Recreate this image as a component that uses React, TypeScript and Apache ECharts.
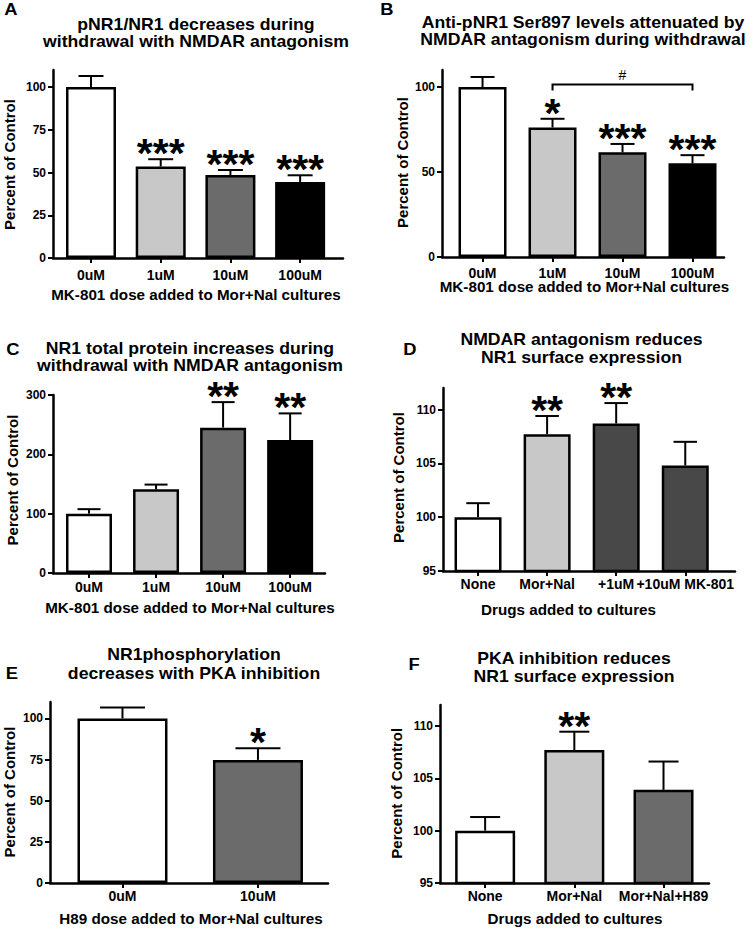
import React, { useEffect, useRef } from 'react';
import * as echarts from 'echarts';

// ---------- Data ----------
const catsA = ['0uM', '1uM', '10uM', '100uM'];
const meanA = [100, 53.5, 48.6, 44.5];
const semA = [6.5, 4.3, 2.9, 3.9];
const sigA = ['', '***', '***', '***'];
const ticksA = [0, 25, 50, 75, 100];

const catsB = ['0uM', '1uM', '10uM', '100uM'];
const meanB = [100, 76.2, 61.6, 55.1];
const semB = [5.9, 5.1, 4.9, 4.8];
const sigB = ['', '*', '***', '***'];
const ticksB = [0, 50, 100];
const bracketB = [[1, 3, 101.5]];
const bracketLabelB = '#';

const catsC = ['0uM', '1uM', '10uM', '100uM'];
const meanC = [100, 141, 245, 224];
const semC = [7.6, 8, 43, 45];
const sigC = ['', '', '**', '**'];
const ticksC = [0, 100, 200, 300];

const catsD = ['None', 'Mor+Nal', '+1uM', '+10uM MK-801'];
const meanD = [100, 107.7, 108.7, 104.8];
const semD = [1.3, 1.7, 1.9, 2.2];
const sigD = ['', '**', '**', ''];
const ticksD = [95, 100, 105, 110];

const catsE = ['0uM', '10uM'];
const meanE = [100, 74.8];
const semE = [6.7, 7.1];
const sigE = ['', '*'];
const ticksE = [0, 25, 50, 75, 100];

const catsF = ['None', 'Mor+Nal', 'Mor+Nal+H89'];
const meanF = [100, 107.7, 103.9];
const semF = [1.3, 1.75, 2.7];
const sigF = ['', '**', ''];
const ticksF = [95, 100, 105, 110];

const letters = ['A', 'B', 'C', 'D', 'E', 'F'];
const titles = [
  'pNR1/NR1 decreases during\nwithdrawal with NMDAR antagonism',
  'Anti-pNR1 Ser897 levels attenuated by\nNMDAR antagonism during withdrawal',
  'NR1 total protein increases during\nwithdrawal with NMDAR antagonism',
  'NMDAR antagonism reduces\nNR1 surface expression',
  'NR1phosphorylation\ndecreases with PKA inhibition',
  'PKA inhibition reduces\nNR1 surface expression',
];
const xTitles = [
  'MK-801 dose added to Mor+Nal cultures',
  'MK-801 dose added to Mor+Nal cultures',
  'MK-801 dose added to Mor+Nal cultures',
  'Drugs added to cultures',
  'H89 dose added to Mor+Nal cultures',
  'Drugs added to cultures',
];
const yTitle = 'Percent of Control';

// ---------- Layout / style ----------
const FONT = '"Liberation Sans", Arial, Helvetica, sans-serif';
const WHITE = '#ffffff';
const LIGHT = '#c8c8c8';
const MID = '#6b6b6b';
const DARK = '#484848';
const BLACK = '#000000';

const panels = [
  { cats: catsA, mean: meanA, sem: semA, sig: sigA, ticks: ticksA, ymin: 0, ymax: 110,
    colors: [WHITE, LIGHT, MID, BLACK], grid: { left: 53, top: 70, width: 290, height: 188 },
    xmin: -0.545, xmax: 3.615, barW: 50, lm: 10,
    letter: [11, 9], title: [196, 33, 17], xt: [196, 295], yt: [9, 164.5] },
  { cats: catsB, mean: meanB, sem: semB, sig: sigB, ticks: ticksB, ymin: 0, ymax: 110,
    colors: [WHITE, LIGHT, MID, BLACK], grid: { left: 442, top: 70, width: 282, height: 187 },
    xmin: -0.579, xmax: 3.45, barW: 48, lm: 9,
    letter: [387, 9], title: [583, 31, 16.5], xt: [584.5, 287], yt: [402, 162.5] },
  { cats: catsC, mean: meanC, sem: semC, sig: sigC, ticks: ticksC, ymin: 0, ymax: 300,
    colors: [WHITE, LIGHT, MID, BLACK], grid: { left: 53, top: 395, width: 272, height: 178 },
    xmin: -0.537, xmax: 3.52, barW: 46, lm: 7,
    letter: [13, 349], title: [190, 357.5, 17], xt: [190, 608], yt: [12, 480] },
  { cats: catsD, mean: meanD, sem: semD, sig: sigD, ticks: ticksD, ymin: 95, ymax: 112,
    colors: [WHITE, LIGHT, DARK, DARK], grid: { left: 443, top: 388, width: 292, height: 183 },
    xmin: -0.507, xmax: 3.72, barW: 47, lm: 6,
    letter: [410, 349], title: [581.5, 348.6, 18], xt: [568.5, 609.7], yt: [398.7, 477.5] },
  { cats: catsE, mean: meanE, sem: semE, sig: sigE, ticks: ticksE, ymin: 0, ymax: 110,
    colors: [WHITE, MID], grid: { left: 50, top: 702, width: 278, height: 181 },
    xmin: -0.535, xmax: 1.517, barW: 90, lm: 6,
    letter: [12, 673], title: [194, 664, 19], xt: [191, 919], yt: [9, 792] },
  { cats: catsF, mean: meanF, sem: semF, sig: sigF, ticks: ticksF, ymin: 95, ymax: 112,
    colors: [WHITE, LIGHT, MID], grid: { left: 440, top: 705, width: 269, height: 178 },
    xmin: -0.506, xmax: 2.51, barW: 60, lm: 6,
    letter: [414, 664], title: [574, 667.5, 18.5], xt: [575, 919], yt: [396, 793.3] },
];

function buildOption() {
  const grid: any[] = [];
  const xAxis: any[] = [];
  const yAxis: any[] = [];
  const series: any[] = [];
  const graphic: any[] = [];

  panels.forEach((p, k) => {
    grid.push({ ...p.grid, containLabel: false });
    const idx = p.cats.map((_, i) => i);
    xAxis.push({
      type: 'value', gridIndex: k, min: p.xmin, max: p.xmax,
      axisLine: { show: true, onZero: false, lineStyle: { color: '#000', width: 2.5 } },
      axisTick: { show: true, customValues: idx, length: 5, lineStyle: { color: '#000', width: 2 } },
      axisLabel: {
        show: true, customValues: idx, margin: p.lm,
        formatter: (v: number) => p.cats[Math.round(v)] ?? '',
        color: '#000', fontWeight: 'bold', fontSize: 14, fontFamily: FONT,
      },
      splitLine: { show: false },
    });
    yAxis.push({
      type: 'value', gridIndex: k, min: p.ymin, max: p.ymax,
      axisLine: { show: true, onZero: false, lineStyle: { color: '#000', width: 2.5 } },
      axisTick: { show: true, customValues: p.ticks, length: 5, lineStyle: { color: '#000', width: 2 } },
      axisLabel: {
        show: true, customValues: p.ticks, margin: 7,
        color: '#000', fontWeight: 'bold', fontSize: 12, fontFamily: FONT,
      },
      splitLine: { show: false },
    });

    series.push({
      type: 'bar', xAxisIndex: k, yAxisIndex: k, barWidth: p.barW, z: 2,
      data: p.mean.map((v, i) => ({ value: [i, v], itemStyle: { color: p.colors[i] } })),
      itemStyle: { borderColor: '#000', borderWidth: 2.5 },
    });

    series.push({
      type: 'custom', xAxisIndex: k, yAxisIndex: k, z: 3, clip: false,
      encode: { x: 0, y: [1, 2] },
      data: p.mean.map((v, i) => [i, v, v + p.sem[i]]),
      renderItem: (params: any, api: any) => {
        const i = api.value(0);
        const m = api.value(1);
        const t = api.value(2);
        const b = api.coord([i, m]);
        const top = api.coord([i, t]);
        const half = p.barW / 4;
        const children: any[] = [
          { type: 'line', shape: { x1: b[0], y1: b[1], x2: top[0], y2: top[1] }, style: { stroke: '#000', lineWidth: 2 } },
          { type: 'line', shape: { x1: top[0] - half, y1: top[1], x2: top[0] + half, y2: top[1] }, style: { stroke: '#000', lineWidth: 2 } },
        ];
        const s = p.sig[params.dataIndex];
        if (s) {
          children.push({
            type: 'text', x: top[0], y: top[1] - 6,
            style: {
              text: s, fill: '#000', font: `bold 41px ${FONT}`,
              align: 'center', verticalAlign: 'middle', textAlign: 'center', textVerticalAlign: 'middle',
            },
          });
        }
        return { type: 'group', children };
      },
    });

    if (k === 1) {
      series.push({
        type: 'custom', xAxisIndex: k, yAxisIndex: k, z: 3, clip: false,
        encode: { x: [0, 1], y: 2 },
        data: bracketB,
        renderItem: (params: any, api: any) => {
          const a = api.coord([api.value(0), api.value(2)]);
          const c = api.coord([api.value(1), api.value(2)]);
          return {
            type: 'group',
            children: [
              { type: 'polyline', shape: { points: [[a[0], a[1] + 6], [a[0], a[1]], [c[0], c[1]], [c[0], c[1] + 6]] },
                style: { stroke: '#000', lineWidth: 2, fill: 'none' } },
              { type: 'text', x: (a[0] + c[0]) / 2, y: a[1] - 9,
                style: { text: bracketLabelB, fill: '#000', font: `normal 14px ${FONT}`,
                  align: 'center', verticalAlign: 'middle', textAlign: 'center', textVerticalAlign: 'middle' } },
            ],
          };
        },
      });
    }

    graphic.push({
      type: 'text', x: p.letter[0], y: p.letter[1], scaleX: 1.08,
      style: { text: letters[k], fill: '#000', font: `bold 17px ${FONT}`,
        align: 'center', verticalAlign: 'middle', textAlign: 'center', textVerticalAlign: 'middle' },
    });
    graphic.push({
      type: 'text', x: p.title[0], y: p.title[1], scaleX: 1.07,
      style: { text: titles[k], fill: '#000', font: `bold 16.5px ${FONT}`, lineHeight: p.title[2],
        align: 'center', verticalAlign: 'middle', textAlign: 'center', textVerticalAlign: 'middle' },
    });
    graphic.push({
      type: 'text', x: p.xt[0], y: p.xt[1], scaleX: 1.05,
      style: { text: xTitles[k], fill: '#000', font: `bold 14.5px ${FONT}`,
        align: 'center', verticalAlign: 'middle', textAlign: 'center', textVerticalAlign: 'middle' },
    });
    graphic.push({
      type: 'text', x: p.yt[0], y: p.yt[1], rotation: Math.PI / 2,
      style: { text: yTitle, fill: '#000', font: `bold 15px ${FONT}`,
        align: 'center', verticalAlign: 'middle', textAlign: 'center', textVerticalAlign: 'middle' },
    });
  });

  return {
    animation: false,
    backgroundColor: '#ffffff',
    textStyle: { fontFamily: FONT },
    grid, xAxis, yAxis, series, graphic,
  };
}

export default function App() {
  const ref = useRef<HTMLDivElement>(null);
  useEffect(() => {
    document.body.style.margin = '0';
    if (!ref.current) return;
    const chart = echarts.init(ref.current, undefined, { renderer: 'svg' });
    chart.setOption(buildOption() as any);
    return () => chart.dispose();
  }, []);
  return <div ref={ref} style={{ width: 755, height: 929, background: '#fff' }} />;
}
